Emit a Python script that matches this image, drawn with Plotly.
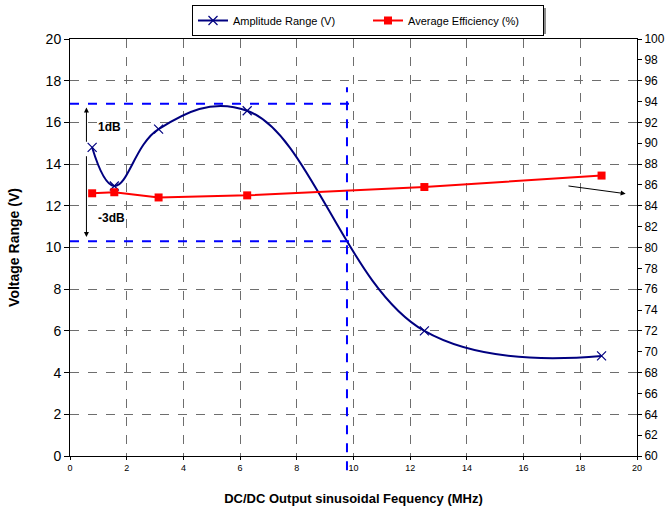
import plotly.graph_objects as go

# Measured data
freq_mhz = [0.78125, 1.5625, 3.125, 6.25, 12.5, 18.75]
amplitude_v = [14.8, 12.95, 15.68, 16.56, 6.0, 4.8]
efficiency_pct = [85.2, 85.3, 84.8, 85.0, 85.8, 86.9]

x_ticks = list(range(0, 21, 2))
y_ticks = list(range(0, 21, 2))
y2_ticks = list(range(60, 101, 2))

# Bandwidth markers (-1 dB / -3 dB levels and the cutoff frequency)
peak_level = 16.9
cutoff_level = 10.3
cutoff_freq = 9.77

FONT = "Liberation Sans, Arial, sans-serif"
GRID = "#6e6e6e"

fig = go.Figure()

fig.add_trace(go.Scatter(
    x=freq_mhz, y=amplitude_v, name="Amplitude Range (V)",
    mode="lines+markers",
    line=dict(color="#000080", width=2, shape="spline", smoothing=1.15),
    marker=dict(symbol="x-thin", size=9, line=dict(color="#000080", width=1.2)),
))
fig.add_trace(go.Scatter(
    x=freq_mhz, y=efficiency_pct, name="Average Efficiency (%)",
    mode="lines+markers", yaxis="y2",
    line=dict(color="#ff0000", width=2),
    marker=dict(symbol="square", size=8, color="#ff0000"),
))

shapes = [
    # horizontal level at the peak amplitude
    dict(type="line", xref="x", yref="y", x0=0, x1=10.06, y0=peak_level, y1=peak_level,
         line=dict(color="#0000ff", width=2, dash="dash")),
    # horizontal level at -3 dB
    dict(type="line", xref="x", yref="y", x0=0, x1=9.9, y0=cutoff_level, y1=cutoff_level,
         line=dict(color="#0000ff", width=2, dash="dash")),
    # vertical line at the cutoff frequency
    dict(type="line", xref="x", yref="paper", x0=cutoff_freq, x1=cutoff_freq, y0=-0.034, y1=0.884,
         line=dict(color="#0000ff", width=2, dash="dash")),
    # legend drop shadow
    dict(type="rect", xref="paper", yref="paper", layer="above",
         x0=(196 - 70) / 567, x1=(546 - 70) / 567, y0=(456 - 34) / 417, y1=(456 - 8) / 417,
         line=dict(width=0), fillcolor="#8c8c8c"),
]

annotations = [
    dict(x=0.58, y=16.72, ax=0.58, ay=15.0, xref="x", yref="y", axref="x", ayref="y",
         showarrow=True, arrowhead=2, arrowsize=1, arrowwidth=1, arrowcolor="black", text=""),
    dict(x=0.58, y=10.5, ax=0.58, ay=14.45, xref="x", yref="y", axref="x", ayref="y",
         showarrow=True, arrowhead=2, arrowsize=1, arrowwidth=1, arrowcolor="black", text=""),
    dict(x=19.6, y=12.58, ax=17.53, ay=12.96, xref="x", yref="y", axref="x", ayref="y",
         showarrow=True, arrowhead=2, arrowsize=1, arrowwidth=1, arrowcolor="black", text=""),
    dict(x=1.4, y=15.76, xref="x", yref="y", text="<b>1dB</b>", showarrow=False,
         font=dict(family=FONT, size=12, color="black")),
    dict(x=1.45, y=11.4, xref="x", yref="y", text="<b>-3dB</b>", showarrow=False,
         font=dict(family=FONT, size=12, color="black")),
]

fig.update_layout(
    width=668, height=514,
    margin=dict(l=70, r=31, t=39, b=58, autoexpand=False),
    paper_bgcolor="white", plot_bgcolor="white",
    font=dict(family=FONT, color="black"),
    showlegend=True,
    legend=dict(
        orientation="h", xref="container", yref="container",
        x=368 / 668, xanchor="center", y=1 - 5 / 514, yanchor="top",
        bgcolor="white", bordercolor="black", borderwidth=1,
        entrywidth=130,
        font=dict(family=FONT, size=11, color="black"),
    ),
    xaxis=dict(
        range=[0, 20], tickvals=x_ticks, ticktext=[str(v) for v in x_ticks],
        showgrid=True, gridcolor=GRID, griddash="dash", gridwidth=1,
        showline=True, linecolor="black", linewidth=1, mirror=True,
        ticks="outside", ticklen=3, tickcolor="black",
        tickfont=dict(family=FONT, size=9),
        zeroline=False, automargin=False,
        title=dict(text="<b>DC/DC Output sinusoidal Fequency (MHz)</b>",
                   font=dict(family=FONT, size=13), standoff=22),
    ),
    yaxis=dict(
        range=[0, 20], tickvals=y_ticks,
        showgrid=True, gridcolor=GRID, griddash="dash", gridwidth=1,
        showline=True, linecolor="black", linewidth=1,
        ticks="outside", ticklen=5, tickcolor="black",
        tickfont=dict(family=FONT, size=14),
        zeroline=False, automargin=False,
        title=dict(text="<b>Voltage Range (V)</b>", font=dict(family=FONT, size=14), standoff=22),
    ),
    yaxis2=dict(
        range=[60, 100], tickvals=y2_ticks, overlaying="y", side="right",
        showgrid=False, showline=True, linecolor="black", linewidth=1,
        ticks="outside", ticklen=4, tickcolor="black",
        tickfont=dict(family=FONT, size=12),
        zeroline=False, automargin=False,
    ),
    shapes=shapes,
    annotations=annotations,
)

fig.write_html("out.html")
